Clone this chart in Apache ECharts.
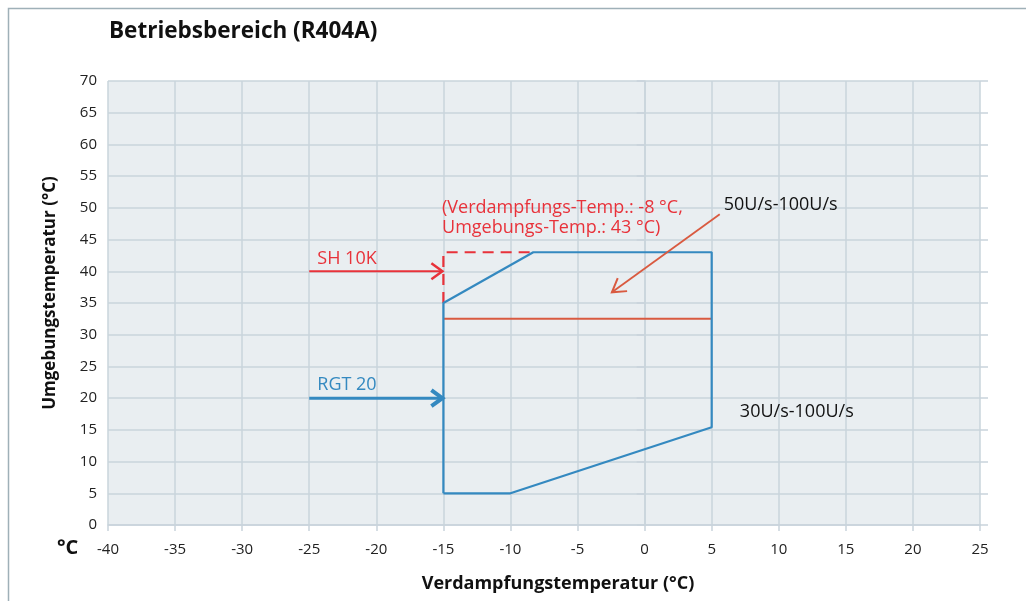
<!DOCTYPE html>
<html><head><meta charset="utf-8">
<script src="https://cdn.jsdelivr.net/npm/echarts@6/dist/echarts.min.js"></script>
<style>html,body{margin:0;padding:0;background:#fff}#c{width:1026px;height:601px}</style>
</head><body><div id="c"></div>
<script>
// ---- data ----
const xTicks = [-40,-35,-30,-25,-20,-15,-10,-5,0,5,10,15,20,25];
const yTicks = [0,5,10,15,20,25,30,35,40,45,50,55,60,65,70];
// operating envelope (blue): evaporating temp, ambient temp
const envelope = [[-15,5],[-10,5],[5,15.4],[5,43],[-8.3,43],[-15,35],[-15,5]];
// SH 10K extension (red dashed)
const sh10k = [[-15,35],[-15,43],[-8.3,43]];
// 50U/s lower limit (red line)
const limit50 = [[-15,32.5],[5,32.5]];
// arrows: [x1,y1,x2,y2]
const arrowSH = [[-25,40,-15,40]];
const arrowRGT = [[-25,20,-15,20]];
const arrow50 = [[5.6,49,-2.5,36.6]];
// annotations: [x, y, text]
const notesRed = [[-24.4,41.9,'SH 10K'],[-15.1,50.0,'(Verdampfungs-Temp.: -8 °C,'],[-15.1,46.9,'Umgebungs-Temp.: 43 °C)']];
const notesBlue = [[-24.4,22.1,'RGT 20']];
const notesBlack = [[5.9,50.4,'50U/s-100U/s'],[7.1,17.8,'30U/s-100U/s']];

const FONT = 'Open Sans';
const BLUE = '#3489c0', RED = '#e8323a', ORANGE = '#d95a40', GRIDC = '#c9d4db';

function arrowSeries(data, color, width, head, half, headW){
  return {type:'custom', data:data, silent:true, z:5,
    renderItem:function(params, api){
      const p1 = api.coord([api.value(0),api.value(1)]);
      const p2 = api.coord([api.value(2),api.value(3)]);
      const dx=p2[0]-p1[0], dy=p2[1]-p1[1], L=Math.sqrt(dx*dx+dy*dy);
      const ux=dx/L, uy=dy/L, nx=-uy, ny=ux;
      const b=[p2[0]-ux*head, p2[1]-uy*head];
      return {type:'group', children:[
        {type:'line', shape:{x1:p1[0],y1:p1[1],x2:p2[0]-ux*1,y2:p2[1]-uy*1}, style:{stroke:color,lineWidth:width}},
        {type:'polyline', shape:{points:[[b[0]+nx*half,b[1]+ny*half],[p2[0]-ux*1,p2[1]-uy*1],[b[0]-nx*half,b[1]-ny*half]]},
         style:{stroke:color,lineWidth:headW,fill:null,lineJoin:'miter'}}
      ]};
    }};
}
function textSeries(data, color, size){
  return {type:'custom', data:data, silent:true, z:6,
    renderItem:function(params, api){
      const p = api.coord([api.value(0),api.value(1)]);
      return {type:'text', x:p[0], y:p[1], style:{text:data[params.dataIndex][2], fill:color,
        font:size+'px "'+FONT+'"', textAlign:'left', textVerticalAlign:'middle'}};
    }};
}

const chart = echarts.init(document.getElementById('c'), null, {renderer:'canvas'});
chart.setOption({
  animation:false,
  textStyle:{fontFamily:FONT},
  title:{text:'Betriebsbereich (R404A)', left:104, top:15,
    textStyle:{fontFamily:FONT,fontWeight:'bold',fontSize:22.5,color:'#111'}},
  grid:{left:108, right:46, top:81, bottom:76, show:true, backgroundColor:'#e9eef1', borderWidth:0},
  graphic:[
    {type:'polyline', shape:{points:[[8.5,601],[8.5,8.5],[1026,8.5]]}, style:{stroke:'#9fb0b8',lineWidth:1.5,fill:null}},
    {type:'text', left:57, top:538, style:{text:'°C', font:'bold 20px "'+FONT+'"', fill:'#111'}}
  ],
  xAxis:{type:'value', min:-40, max:25, interval:5,
    name:'Verdampfungstemperatur (°C)', nameLocation:'middle', nameGap:50,
    nameTextStyle:{fontFamily:FONT,fontWeight:'bold',fontSize:18,color:'#111',padding:[0,0,0,28]},
    axisLine:{show:true,lineStyle:{color:GRIDC,width:1.5}},
    axisTick:{show:true,length:6,lineStyle:{color:GRIDC,width:1.5}},
    axisLabel:{fontSize:15,color:'#222',margin:17,fontFamily:FONT,formatter:v=>String(v)},
    splitLine:{show:true,lineStyle:{color:GRIDC,width:1.5}}},
  yAxis:[{type:'value', min:0, max:70, interval:5,
    name:'Umgebungstemperatur (°C)', nameLocation:'middle', nameGap:49,
    nameTextStyle:{fontFamily:FONT,fontWeight:'bold',fontSize:17,color:'#111',padding:[0,0,0,20]},
    axisLine:{show:true,lineStyle:{color:GRIDC,width:1.5}},
    axisTick:{show:true,length:8,lineStyle:{color:GRIDC,width:1.5}},
    axisLabel:{fontSize:15,color:'#222',margin:11,fontFamily:FONT},
    splitLine:{show:true,lineStyle:{color:GRIDC,width:1.5}}},
   {type:'value', min:0, max:70, interval:5, position:'right',
    axisLine:{show:false}, axisLabel:{show:false}, splitLine:{show:false},
    axisTick:{show:true,length:8,lineStyle:{color:GRIDC,width:1.5}}}],
  series:[
    {type:'line', data:envelope, symbol:'none', lineStyle:{color:BLUE,width:2.2}, z:4},
    {type:'line', data:sh10k, symbol:'none', lineStyle:{color:RED,width:2.2,type:[11,7]}, z:3},
    {type:'line', data:limit50, symbol:'none', lineStyle:{color:ORANGE,width:2}, z:3},
    arrowSeries(arrowSH, RED, 2, 12, 8, 2.5),
    arrowSeries(arrowRGT, BLUE, 3, 12, 8, 4),
    arrowSeries(arrow50, ORANGE, 1.8, 14, 8, 2),
    textSeries(notesRed, RED, 18),
    textSeries(notesBlue, BLUE, 18),
    textSeries(notesBlack, '#111', 18)
  ]
});
</script></body></html>
